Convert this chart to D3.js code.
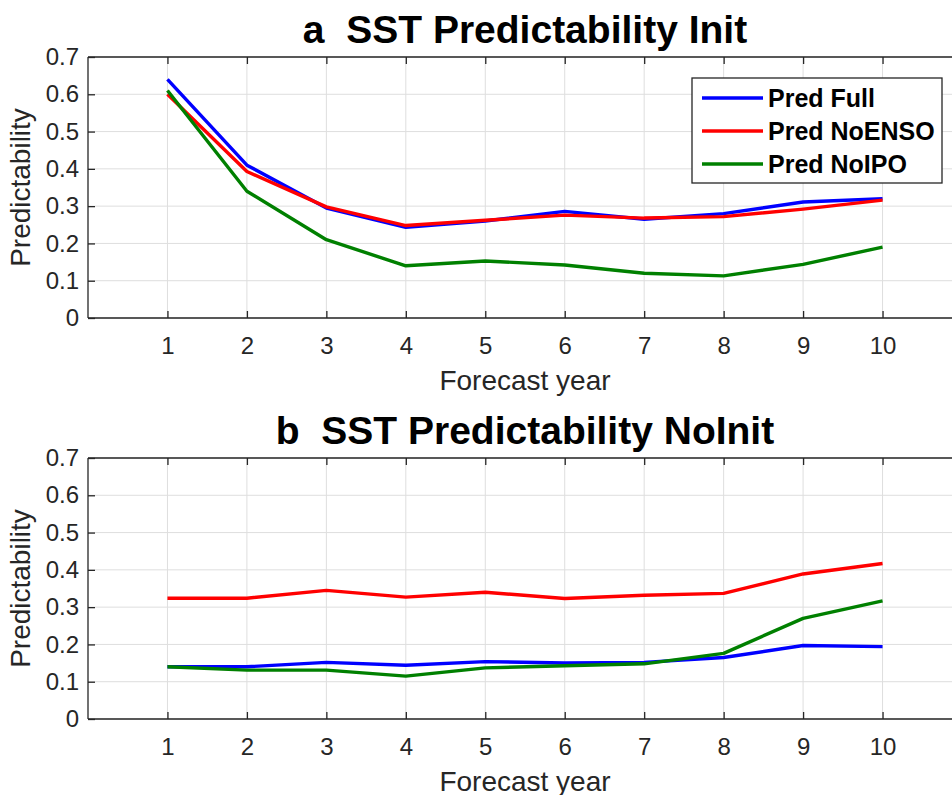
<!DOCTYPE html>
<head>
<meta charset="utf-8">
<style>
body { margin: 0; background: #fff; }
text { font-family: "Liberation Sans", Arial, sans-serif; }
</style>
</head>
<body>
<script src="https://d3js.org/d3.v7.min.js"></script>
<script>
var years = [1, 2, 3, 4, 5, 6, 7, 8, 9, 10];
var yTicks = [0, 0.1, 0.2, 0.3, 0.4, 0.5, 0.6, 0.7];
var seriesNames = ["Pred Full", "Pred NoENSO", "Pred NoIPO"];
var seriesColors = ["#0000ff", "#ff0000", "#008000"];

// panel a: initialized
var initFull   = [0.640, 0.410, 0.295, 0.243, 0.260, 0.286, 0.265, 0.280, 0.311, 0.320];
var initNoENSO = [0.600, 0.393, 0.298, 0.248, 0.262, 0.276, 0.268, 0.272, 0.292, 0.316];
var initNoIPO  = [0.610, 0.340, 0.210, 0.140, 0.153, 0.142, 0.120, 0.113, 0.144, 0.190];

// panel b: not initialized
var noinitFull   = [0.140, 0.140, 0.152, 0.144, 0.154, 0.150, 0.152, 0.165, 0.197, 0.194];
var noinitNoENSO = [0.324, 0.324, 0.345, 0.327, 0.340, 0.323, 0.332, 0.337, 0.389, 0.417];
var noinitNoIPO  = [0.140, 0.131, 0.131, 0.115, 0.137, 0.143, 0.148, 0.176, 0.270, 0.317];

var W = 952, H = 795;
var svg = d3.select("body").append("svg")
    .attr("width", W)
    .attr("height", H);

var axColor = "#262626";

function panel(top, bottom, title, data, showLegend) {
    var left = 88, right = 962;
    var x = d3.scaleLinear().domain([0, 11]).range([left, right]);
    var y = d3.scaleLinear().domain([0, 0.7]).range([bottom, top]);
    var g = svg.append("g");

    // grid
    g.selectAll(".vg").data(years).enter().append("line")
        .attr("x1", d => x(d)).attr("x2", d => x(d))
        .attr("y1", top).attr("y2", bottom)
        .attr("stroke", "#dedede").attr("stroke-width", 1);
    g.selectAll(".hg").data(yTicks).enter().append("line")
        .attr("x1", left).attr("x2", right)
        .attr("y1", d => y(d)).attr("y2", d => y(d))
        .attr("stroke", "#dedede").attr("stroke-width", 1);

    // axes
    var xAxis = d3.axisBottom(x).tickValues(years).tickSize(-7).tickPadding(19).tickFormat(d3.format("d"));
    var gx = g.append("g").attr("transform", "translate(0," + bottom + ")").call(xAxis);
    var gxTop = g.append("g").attr("transform", "translate(0," + top + ")")
        .call(d3.axisTop(x).tickValues(years).tickSize(-7).tickFormat(""));
    var yAxis = d3.axisLeft(y).tickValues(yTicks).tickSize(-7).tickPadding(9)
        .tickFormat(d => d === 0 ? "0" : d3.format(".1f")(d));
    var gy = g.append("g").attr("transform", "translate(" + left + ",0)").call(yAxis);

    [gx, gxTop, gy].forEach(function (a) {
        a.select(".domain").attr("stroke", axColor).attr("stroke-width", 1.3);
        a.selectAll(".tick line").attr("stroke", axColor).attr("stroke-width", 1.3);
        a.selectAll(".tick text").attr("fill", axColor)
            .style("font-size", "24px").style("font-family", "Liberation Sans, Arial, sans-serif");
    });
    gx.select(".domain").attr("d", "M" + left + ",0H" + right);
    gxTop.select(".domain").attr("d", "M" + left + ",0H" + right);
    gy.select(".domain").attr("d", "M0," + bottom + "V" + top);

    // lines
    var line = d3.line().x((d, i) => x(years[i])).y(d => y(d));
    data.forEach(function (s, k) {
        g.append("path")
            .attr("d", line(s))
            .attr("fill", "none")
            .attr("stroke", seriesColors[k])
            .attr("stroke-width", 3.4)
            .attr("stroke-linejoin", "round");
    });

    // labels
    g.append("text")
        .attr("x", (left + right) / 2).attr("y", top - 14)
        .attr("text-anchor", "middle")
        .style("font-size", "39px").style("font-weight", "bold")
        .style("white-space", "pre")
        .attr("fill", "#000")
        .text(title);
    g.append("text")
        .attr("x", (left + right) / 2).attr("y", bottom + 72)
        .attr("text-anchor", "middle")
        .style("font-size", "28px").attr("fill", axColor)
        .text("Forecast year");
    g.append("text")
        .attr("transform", "translate(30," + (top + bottom) / 2 + ") rotate(-90)")
        .attr("text-anchor", "middle")
        .style("font-size", "28px").attr("fill", axColor)
        .text("Predictability");

    if (showLegend) {
        var lg = g.append("g");
        lg.append("rect")
            .attr("x", 692).attr("y", 78).attr("width", 250).attr("height", 105)
            .attr("fill", "#fff").attr("stroke", axColor).attr("stroke-width", 1.3);
        seriesNames.forEach(function (n, k) {
            var yy = 98 + k * 33;
            lg.append("line")
                .attr("x1", 702).attr("x2", 763).attr("y1", yy).attr("y2", yy)
                .attr("stroke", seriesColors[k]).attr("stroke-width", 3.4);
            lg.append("text")
                .attr("x", 768).attr("y", yy + 9)
                .style("font-size", "25px").style("font-weight", "bold")
                .attr("fill", "#000")
                .text(n);
        });
    }
}

panel(57, 318, "a  SST Predictability Init", [initFull, initNoENSO, initNoIPO], true);
panel(458, 719, "b  SST Predictability NoInit", [noinitFull, noinitNoENSO, noinitNoIPO], false);
</script>
</body>
